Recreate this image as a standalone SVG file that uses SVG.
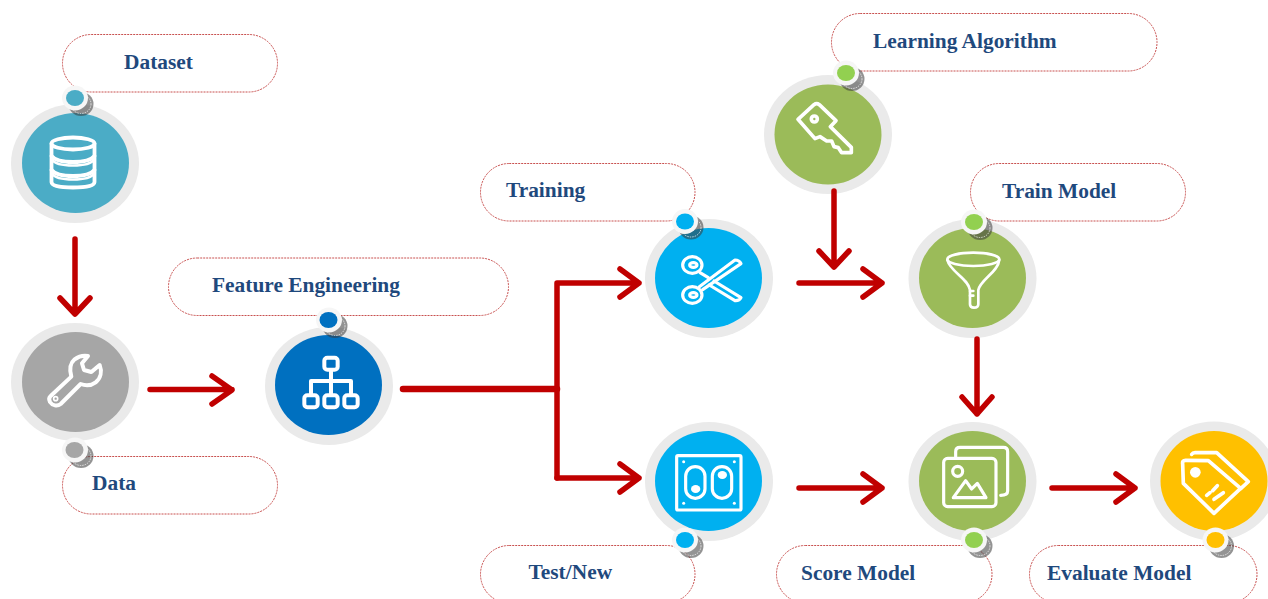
<svg xmlns="http://www.w3.org/2000/svg" xmlns:xlink="http://www.w3.org/1999/xlink" width="1268" height="599" viewBox="0 0 1268 599">
<style>
.pill{fill:#fff;stroke:#c8504f;stroke-width:1;stroke-dasharray:2 1}
.label{font-family:"Liberation Serif","Times New Roman",serif;font-weight:bold;font-size:21.4px;fill:#1f497d}
.ring{fill:#eaeaea}
.ic{fill:none;stroke:#fff;stroke-linejoin:round;stroke-linecap:round}
.w{fill:#fff;stroke:none}
.con{fill:none;stroke:#c00000;stroke-width:5.500;stroke-linecap:round;stroke-linejoin:round}
.trunk{stroke-width:6.500}
.halo{fill:#f6f6f6}
.teal{fill:#4bacc6}.grey{fill:#a6a6a6}.blue{fill:#0070c0}.sky{fill:#00b0f0}.green{fill:#9bbb59}.lime{fill:#92d050}.gold{fill:#ffc000}
</style>
<defs>
<g id="pinback">
<ellipse cx="6" cy="6" rx="12.500" ry="12" fill="#3a3a3a" fill-opacity=".55"/>
<ellipse cx="6" cy="6" rx="10" ry="9.500" fill="none" stroke="#fff" stroke-width=".7" stroke-dasharray="1.500 1"/>
<ellipse cx="0" cy="0" rx="13" ry="12.500" class="halo"/>
</g>
</defs>

<g id="node-dataset">
<rect class="pill" x="62.500" y="34.500" width="215" height="57.500" rx="28.700"/>
<text class="label" x="124" y="69">Dataset</text>
<ellipse class="ring" cx="75" cy="163.500" rx="64" ry="59.500"/>
<ellipse class="teal" cx="75.500" cy="163" rx="53.500" ry="50"/>
<g class="ic" stroke-width="3.800">
<ellipse cx="73" cy="143.500" rx="21.500" ry="6"/>
<path d="M51.500 143.500V182Q52 187.500 73 187.500Q94 187.500 94.500 182V143.500"/>
<path d="M51.500 156Q56 162 73 162Q90 162 94.500 156"/>
<path d="M51.500 159.500Q56 165.500 73 165.500Q90 165.500 94.500 159.500" stroke-width="2.500"/>
<path d="M51.500 170Q56 176 73 176Q90 176 94.500 170"/>
<path d="M51.500 173.500Q56 179.500 73 179.500Q90 179.500 94.500 173.500" stroke-width="2.500"/>
</g>
<use xlink:href="#pinback" href="#pinback" x="75" y="98"/>
<ellipse class="teal" cx="75" cy="98" rx="9" ry="8"/>
</g>

<g id="node-data">
<rect class="pill" x="62.500" y="456.500" width="215" height="57.500" rx="28.700"/>
<text class="label" x="92" y="490">Data</text>
<ellipse class="ring" cx="75" cy="382" rx="64" ry="59"/>
<ellipse class="grey" cx="75.500" cy="382" rx="53.500" ry="50"/>
<g transform="translate(0 310) scale(.3333)">
<path class="ic" stroke-width="12" d="M152 258L214 200C207 175 210 160 224 148C237 138 252 136 264 138L246 160L252 180L274 186L299 165C307 185 302 205 287 217C272 228 257 228 242 222L182 282C172 290 157 287 150 276C146 268 147 262 152 258Z"/>
<circle class="ic" stroke-width="5" cx="167" cy="266" r="6"/>
</g>
<use xlink:href="#pinback" href="#pinback" x="75" y="450"/>
<ellipse class="grey" cx="74.500" cy="450" rx="9" ry="8"/>
</g>

<g id="node-feature-engineering">
<rect class="pill" x="168.500" y="258" width="340" height="57.500" rx="28.700"/>
<text class="label" x="212" y="292">Feature Engineering</text>
<ellipse class="ring" cx="329" cy="386" rx="64" ry="59"/>
<ellipse class="blue" cx="328.500" cy="385" rx="53.500" ry="50"/>
<g transform="translate(260 300) scale(.3333)" class="ic" stroke-width="12">
<rect x="193" y="173" width="40" height="36" rx="9"/>
<rect x="133" y="286" width="40" height="36" rx="9"/>
<rect x="193" y="286" width="40" height="36" rx="9"/>
<rect x="253" y="286" width="40" height="36" rx="9"/>
<path d="M213 211V284M153 284V243H273V284"/>
</g>
<use xlink:href="#pinback" href="#pinback" x="329" y="320"/>
<ellipse class="blue" cx="328.500" cy="320" rx="9" ry="8"/>
</g>

<g id="node-training">
<rect class="pill" x="480.500" y="163.500" width="214.500" height="57.500" rx="28.700"/>
<text class="label" x="506" y="197">Training</text>
<ellipse class="ring" cx="709" cy="278.500" rx="64" ry="59.500"/>
<ellipse class="sky" cx="708.500" cy="278" rx="53.500" ry="50"/>
<g transform="translate(640 205) scale(.3333)" class="ic" stroke-width="9.500">
<ellipse cx="157" cy="180" rx="29" ry="25"/>
<ellipse cx="160" cy="180" rx="11" ry="7"/>
<ellipse cx="157" cy="270" rx="29" ry="25"/>
<ellipse cx="160" cy="270" rx="11" ry="7"/>
<path d="M178 245L285 165Q298 165 303 176L188 254"/>
<path d="M180 203L205 218M222 228L303 278Q298 288 285 287L208 240"/>
</g>
<use xlink:href="#pinback" href="#pinback" x="685" y="221.500"/>
<ellipse class="sky" cx="685" cy="221.500" rx="9" ry="8"/>
</g>

<g id="node-test-new">
<rect class="pill" x="480.500" y="545.500" width="214.500" height="57.500" rx="28.700"/>
<text class="label" x="528.500" y="579">Test/New</text>
<ellipse class="ring" cx="709" cy="481.500" rx="64" ry="59.500"/>
<ellipse class="sky" cx="708.500" cy="481" rx="53.500" ry="50"/>
<g transform="translate(640 415) scale(.3333)" class="ic" stroke-width="9.500">
<rect x="110" y="122" width="193" height="163" rx="4"/>
<rect x="137" y="155" width="58" height="95" rx="29"/>
<rect x="217" y="155" width="58" height="95" rx="29"/>
<ellipse class="w" cx="167" cy="222" rx="14" ry="12"/>
<ellipse class="w" cx="247" cy="180" rx="14" ry="12"/>
<circle class="w" cx="131" cy="140" r="4.500"/><circle class="w" cx="283" cy="140" r="4.500"/>
<circle class="w" cx="131" cy="265" r="4.500"/><circle class="w" cx="283" cy="265" r="4.500"/>
</g>
<use xlink:href="#pinback" href="#pinback" x="685" y="540"/>
<ellipse class="sky" cx="685" cy="540" rx="9" ry="8"/>
</g>

<g id="node-learning-algorithm">
<rect class="pill" x="831.500" y="13.500" width="325.500" height="57.500" rx="28.700"/>
<text class="label" x="873" y="48">Learning Algorithm</text>
<ellipse class="ring" cx="828" cy="134.500" rx="64" ry="59.500"/>
<ellipse class="green" cx="828" cy="134.500" rx="53.500" ry="50"/>
<g transform="translate(760 60) scale(.3333)" class="ic" stroke-width="11">
<path d="M114 178L162 134Q170 128 178 134L228 182L211 200L274 262V278H245L235 263L222 260L215 243H200L180 230L165 236Z"/>
<circle cx="163" cy="177" r="9"/>
</g>
<use xlink:href="#pinback" href="#pinback" x="846" y="73"/>
<ellipse class="lime" cx="846" cy="73" rx="9" ry="8"/>
</g>

<g id="node-train-model">
<rect class="pill" x="970.500" y="163.500" width="215" height="57.500" rx="28.700"/>
<text class="label" x="1002" y="198">Train Model</text>
<ellipse class="ring" cx="972.500" cy="278.500" rx="64" ry="59.500"/>
<ellipse class="green" cx="972.500" cy="278" rx="53.500" ry="50"/>
<g transform="translate(900 205) scale(.3333)" class="ic" stroke-width="8">
<ellipse cx="220" cy="163" rx="78" ry="20"/>
<path d="M142 165C150 200 205 220 210 255V298Q210 308 222 308Q235 308 235 298V255C240 225 295 200 298 165"/>
<path d="M210 258H220M210 272H220"/>
</g>
<use xlink:href="#pinback" href="#pinback" x="974" y="222"/>
<ellipse class="lime" cx="974" cy="222" rx="9" ry="8"/>
</g>

<g id="node-score-model">
<rect class="pill" x="776.500" y="545.500" width="215.500" height="57.500" rx="28.700"/>
<text class="label" x="801" y="579.500">Score Model</text>
<ellipse class="ring" cx="972.500" cy="481.500" rx="64" ry="59.500"/>
<ellipse class="green" cx="972.500" cy="481" rx="53.500" ry="50"/>
<g transform="translate(900 415) scale(.3333)" class="ic" stroke-width="9.500">
<rect x="131" y="130" width="157" height="145" rx="12"/>
<path d="M167 125V110Q167 97 180 97H310Q323 97 323 110V228Q323 241 302 241"/>
<circle cx="173" cy="169" r="15"/>
<path d="M160 248L197 197L215 222L232 205L258 248Z"/>
</g>
<use xlink:href="#pinback" href="#pinback" x="974" y="540"/>
<ellipse class="lime" cx="974" cy="540" rx="9" ry="8"/>
</g>

<g id="node-evaluate-model">
<rect class="pill" x="1029.500" y="545.500" width="227.500" height="57.500" rx="28.700"/>
<text class="label" x="1047" y="579.500">Evaluate Model</text>
<ellipse class="ring" cx="1214" cy="481" rx="64" ry="59.500"/>
<ellipse class="gold" cx="1214" cy="481" rx="53.500" ry="50"/>
<g transform="translate(1140 420) scale(.3333)" class="ic" stroke-width="11">
<path d="M128 132Q126 121 137 121L205 122L302 205L222 280L130 190Z"/>
<path d="M155 103Q158 98 165 98L230 98L325 185L303 205"/>
<circle class="w" cx="166" cy="157" r="16"/>
<path d="M200 226L210 218M218 212L232 197M222 238L250 218"/>
</g>
<use xlink:href="#pinback" href="#pinback" x="1215.500" y="540"/>
<ellipse class="gold" cx="1215.500" cy="540" rx="9" ry="8"/>
</g>

<g id="connectors">
<path class="con" d="M75 239V314M60 298L75 314L90 298"/>
<path class="con" d="M150 389.500H232M212 376L232 390L212 404"/>
<path class="con trunk" d="M403 389H557"/>
<path class="con" d="M557 478V283H639M620 269L639 283L620 297"/>
<path class="con" d="M557 478H639M620 464L639 478L620 492"/>
<path class="con" d="M799 283H882M863 269L882 283L863 297"/>
<path class="con" d="M834 191V267M819 251L834 267L849 251"/>
<path class="con" d="M977 339V414M962 397L977 414L992 397"/>
<path class="con" d="M799 488H882M863 474L882 488L863 502"/>
<path class="con" d="M1052 488H1135M1116 474L1135 488L1116 502"/>
</g>
</svg>
